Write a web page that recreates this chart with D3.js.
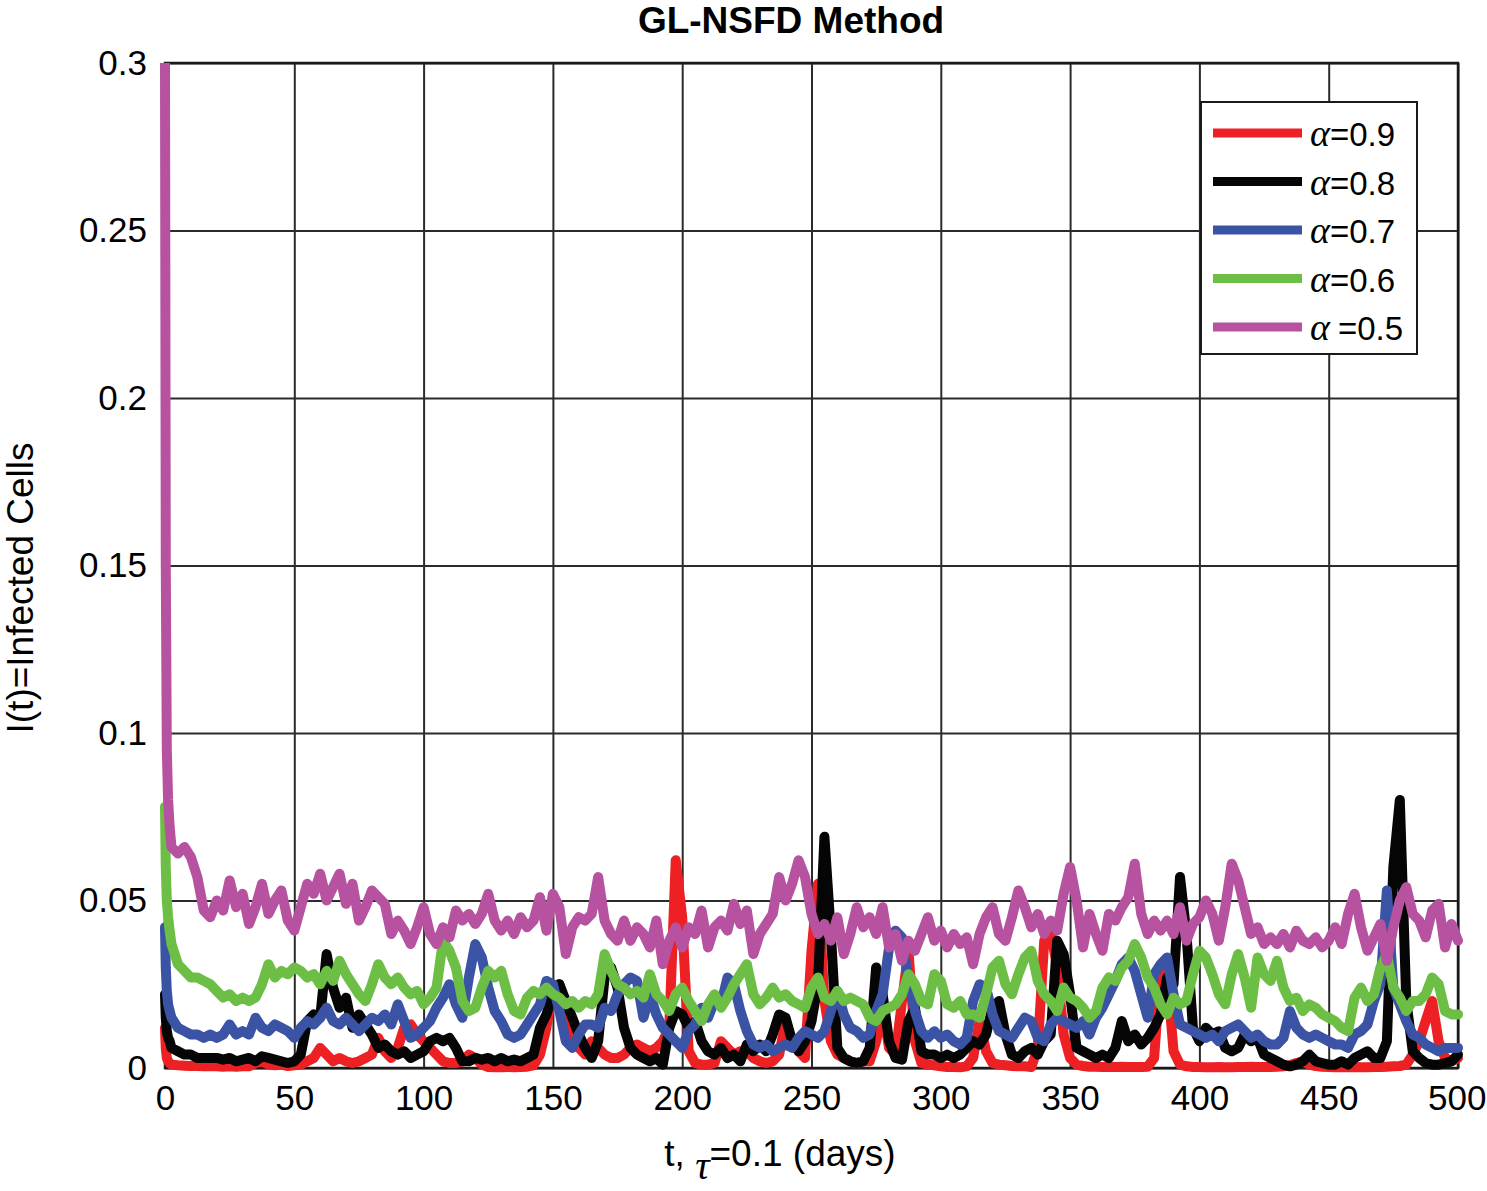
<!DOCTYPE html>
<html>
<head>
<meta charset="utf-8">
<script src="https://cdn.jsdelivr.net/npm/d3@7"></script>
<style>
  body { margin: 0; background: #fff; }
  text { font-family: "Liberation Sans", Arial, Helvetica, sans-serif; fill: #000; }
</style>
</head>
<body>
<svg id="chart" width="1487" height="1191"></svg>
<script>
// -------------------
// data

// first few samples near t=0 (fast initial decay), then a 2.5-day sampling grid up to 500
const tHead = [0, 0.3, 0.7, 1.2, 1.8]
const tGrid = d3.range(2.5, 500.01, 2.5)
const tValues = [...tHead, ...tGrid]

const seriesLabels = ["0.9", "0.8", "0.7", "0.6", " 0.5"]
const seriesColors = ["#ed2024", "#050505", "#3a53a4", "#6cbe45", "#b6529f"]

// alpha = 0.9
const red09 = [0.012, 0.006, 0.003, 0.002, 0.0015,
  0.001, 0.0008, 0.0007, 0.0006, 0.0006, 0.0005, 0.0005, 0.0005, 0.0004, 0.0005,
  0.0004, 0.0005, 0.0005, 0.0015, 0.002, 0.001, 0.0008, 0.001, 0.0006, 0.0008,
  0.001, 0.002, 0.003, 0.006, 0.004, 0.002, 0.003, 0.002, 0.0015, 0.002,
  0.003, 0.004, 0.009, 0.005, 0.003, 0.006, 0.012, 0.013, 0.010, 0.008,
  0.006, 0.004, 0.002, 0.0015, 0.0015, 0.002, 0.004, 0.003, 0.001, 0.0003,
  0.0002, 0.0002, 0.0003, 0.0002, 0.0003, 0.0004, 0.0008, 0.004, 0.012, 0.024,
  0.025, 0.018, 0.010, 0.006, 0.004, 0.008, 0.006, 0.004, 0.003, 0.003,
  0.004, 0.006, 0.007, 0.006, 0.005, 0.006, 0.008, 0.012, 0.062, 0.045,
  0.005, 0.0015, 0.001, 0.001, 0.0015, 0.008, 0.006, 0.004, 0.005, 0.005,
  0.003, 0.002, 0.0015, 0.002, 0.004, 0.014, 0.008, 0.005, 0.003, 0.035,
  0.055, 0.020, 0.008, 0.004, 0.003, 0.002, 0.0015, 0.002, 0.002, 0.008,
  0.018, 0.006, 0.004, 0.020, 0.035, 0.008, 0.0015, 0.001, 0.0008, 0.0005,
  0.0003, 0.0003, 0.0002, 0.0005, 0.003, 0.014, 0.005, 0.0015, 0.001, 0.0008,
  0.0006, 0.0005, 0.0005, 0.0003, 0.006, 0.038, 0.041, 0.030, 0.010, 0.003,
  0.001, 0.0006, 0.0004, 0.0004, 0.0003, 0.0004, 0.0003, 0.0004, 0.0003, 0.0003,
  0.0003, 0.0004, 0.003, 0.030, 0.028, 0.005, 0.001, 0.0005, 0.0003, 0.0003,
  0.0002, 0.0002, 0.0003, 0.0002, 0.0002, 0.0003, 0.0003, 0.0004, 0.0003, 0.0003,
  0.0003, 0.0004, 0.0005, 0.0008, 0.0015, 0.002, 0.001, 0.0006, 0.0004, 0.0003,
  0.0002, 0.0002, 0.0002, 0.0003, 0.0002, 0.0002, 0.0003, 0.0003, 0.0004, 0.0005,
  0.0006, 0.001, 0.004, 0.008, 0.014, 0.020, 0.008, 0.003, 0.002, 0.003]

// alpha = 0.8
const black08 = [0.022, 0.015, 0.011, 0.009, 0.008,
  0.006, 0.005, 0.004, 0.004, 0.003, 0.003, 0.003, 0.003, 0.0025, 0.003,
  0.002, 0.0025, 0.003, 0.002, 0.0035, 0.003, 0.0025, 0.002, 0.0015, 0.002,
  0.004, 0.014, 0.016, 0.015, 0.034, 0.024, 0.018, 0.021, 0.012, 0.016,
  0.013, 0.010, 0.006, 0.007, 0.005, 0.004, 0.005, 0.003, 0.004, 0.005,
  0.008, 0.009, 0.008, 0.009, 0.006, 0.002, 0.002, 0.003, 0.0025, 0.003,
  0.002, 0.003, 0.002, 0.0025, 0.002, 0.003, 0.004, 0.012, 0.016, 0.022,
  0.025, 0.020, 0.015, 0.010, 0.006, 0.003, 0.008, 0.027, 0.030, 0.024,
  0.012, 0.006, 0.004, 0.003, 0.002, 0.003, 0.001, 0.012, 0.017, 0.016,
  0.012, 0.014, 0.008, 0.005, 0.004, 0.006, 0.003, 0.004, 0.002, 0.007,
  0.005, 0.007, 0.005, 0.010, 0.016, 0.015, 0.008, 0.005, 0.008, 0.014,
  0.025, 0.069, 0.040, 0.006, 0.003, 0.002, 0.0015, 0.002, 0.006, 0.030,
  0.022, 0.008, 0.003, 0.0025, 0.014, 0.018, 0.005, 0.004, 0.004, 0.003,
  0.004, 0.003, 0.004, 0.006, 0.008, 0.007, 0.010, 0.018, 0.020, 0.010,
  0.004, 0.003, 0.005, 0.006, 0.004, 0.008, 0.010, 0.038, 0.034, 0.022,
  0.006, 0.005, 0.004, 0.003, 0.004, 0.003, 0.006, 0.014, 0.008, 0.010,
  0.007, 0.009, 0.012, 0.016, 0.027, 0.025, 0.057, 0.040, 0.012, 0.008,
  0.012, 0.010, 0.011, 0.006, 0.005, 0.006, 0.010, 0.008, 0.009, 0.004,
  0.003, 0.002, 0.001, 0.0005, 0.001, 0.002, 0.004, 0.002, 0.0015, 0.001,
  0.001, 0.002, 0.001, 0.003, 0.004, 0.005, 0.003, 0.003, 0.008, 0.060,
  0.080, 0.020, 0.005, 0.003, 0.0015, 0.001, 0.001, 0.0015, 0.002, 0.004]

// alpha = 0.7
const blue07 = [0.042, 0.030, 0.023, 0.019, 0.017,
  0.015, 0.012, 0.011, 0.010, 0.010, 0.009, 0.010, 0.009, 0.010, 0.013,
  0.010, 0.011, 0.010, 0.015, 0.012, 0.011, 0.013, 0.012, 0.011, 0.009,
  0.012, 0.014, 0.013, 0.015, 0.018, 0.014, 0.013, 0.015, 0.013, 0.011,
  0.013, 0.015, 0.014, 0.016, 0.013, 0.019, 0.014, 0.009, 0.010, 0.012,
  0.014, 0.018, 0.021, 0.025, 0.019, 0.015, 0.027, 0.037, 0.033, 0.024,
  0.017, 0.014, 0.010, 0.009, 0.010, 0.013, 0.016, 0.019, 0.026, 0.025,
  0.017, 0.008, 0.006, 0.010, 0.013, 0.013, 0.012, 0.018, 0.017, 0.022,
  0.025, 0.027, 0.026, 0.015, 0.022, 0.016, 0.012, 0.010, 0.008, 0.006,
  0.011, 0.013, 0.018, 0.015, 0.020, 0.019, 0.027, 0.025, 0.017, 0.011,
  0.007, 0.006, 0.007, 0.005, 0.006, 0.007, 0.006, 0.009, 0.011, 0.010,
  0.009, 0.011, 0.017, 0.023, 0.016, 0.012, 0.011, 0.009, 0.010, 0.017,
  0.022, 0.036, 0.041, 0.039, 0.026, 0.017, 0.011, 0.009, 0.011, 0.009,
  0.010, 0.008, 0.007, 0.009, 0.020, 0.025, 0.024, 0.016, 0.011, 0.010,
  0.009, 0.012, 0.015, 0.014, 0.009, 0.008, 0.013, 0.015, 0.014, 0.013,
  0.012, 0.014, 0.010, 0.015, 0.018, 0.022, 0.026, 0.031, 0.033, 0.029,
  0.022, 0.015, 0.028, 0.031, 0.033, 0.022, 0.013, 0.012, 0.011, 0.010,
  0.009, 0.010, 0.008, 0.011, 0.012, 0.013, 0.011, 0.009, 0.010, 0.008,
  0.007, 0.007, 0.009, 0.017, 0.012, 0.010, 0.009, 0.010, 0.009, 0.008,
  0.007, 0.007, 0.006, 0.010, 0.011, 0.013, 0.020, 0.025, 0.053, 0.024,
  0.019, 0.014, 0.010, 0.009, 0.007, 0.006, 0.005, 0.006, 0.006, 0.006]

// alpha = 0.6
const green06 = [0.078, 0.060, 0.050, 0.045, 0.041,
  0.037, 0.031, 0.029, 0.027, 0.027, 0.026, 0.025, 0.023, 0.021, 0.022,
  0.020, 0.021, 0.020, 0.021, 0.025, 0.031, 0.027, 0.029, 0.028, 0.030,
  0.029, 0.027, 0.028, 0.025, 0.029, 0.026, 0.032, 0.028, 0.025, 0.022,
  0.020, 0.025, 0.031, 0.027, 0.025, 0.027, 0.024, 0.022, 0.023, 0.019,
  0.021, 0.024, 0.038, 0.035, 0.030, 0.020, 0.017, 0.018, 0.024, 0.029,
  0.027, 0.029, 0.022, 0.017, 0.016, 0.021, 0.023, 0.022, 0.024, 0.022,
  0.021, 0.019, 0.020, 0.018, 0.020, 0.019, 0.022, 0.034, 0.029, 0.025,
  0.024, 0.022, 0.023, 0.021, 0.028, 0.022, 0.020, 0.017, 0.022, 0.024,
  0.020, 0.017, 0.014, 0.019, 0.022, 0.018, 0.021, 0.025, 0.028, 0.031,
  0.022, 0.019, 0.021, 0.024, 0.021, 0.022, 0.020, 0.019, 0.018, 0.024,
  0.027, 0.021, 0.020, 0.023, 0.020, 0.021, 0.020, 0.019, 0.015, 0.014,
  0.017, 0.018, 0.019, 0.022, 0.028, 0.025, 0.020, 0.019, 0.028, 0.026,
  0.019, 0.018, 0.020, 0.016, 0.016, 0.015, 0.022, 0.030, 0.032, 0.025,
  0.022, 0.028, 0.033, 0.035, 0.026, 0.022, 0.020, 0.017, 0.024, 0.021,
  0.020, 0.018, 0.015, 0.017, 0.024, 0.027, 0.026, 0.030, 0.032, 0.037,
  0.033, 0.027, 0.024, 0.019, 0.016, 0.021, 0.019, 0.020, 0.028, 0.035,
  0.033, 0.028, 0.022, 0.019, 0.028, 0.034, 0.027, 0.018, 0.033, 0.028,
  0.026, 0.032, 0.024, 0.020, 0.021, 0.017, 0.019, 0.018, 0.016, 0.015,
  0.014, 0.012, 0.011, 0.021, 0.024, 0.020, 0.022, 0.030, 0.034, 0.024,
  0.021, 0.017, 0.020, 0.020, 0.022, 0.027, 0.025, 0.017, 0.016, 0.016]

// alpha = 0.5
const magenta05 = [0.300, 0.150, 0.095, 0.080, 0.072,
  0.066, 0.064, 0.066, 0.063, 0.057, 0.047, 0.045, 0.050, 0.047, 0.056,
  0.048, 0.052, 0.043, 0.048, 0.055, 0.046, 0.050, 0.053, 0.044, 0.041,
  0.048, 0.055, 0.052, 0.058, 0.050, 0.054, 0.058, 0.049, 0.055, 0.044,
  0.048, 0.053, 0.051, 0.049, 0.040, 0.044, 0.041, 0.037, 0.042, 0.048,
  0.040, 0.037, 0.042, 0.039, 0.047, 0.044, 0.046, 0.043, 0.046, 0.052,
  0.044, 0.041, 0.044, 0.040, 0.045, 0.042, 0.044, 0.051, 0.041, 0.052,
  0.048, 0.034, 0.042, 0.045, 0.044, 0.046, 0.057, 0.044, 0.040, 0.038,
  0.044, 0.038, 0.042, 0.040, 0.036, 0.044, 0.031, 0.038, 0.042, 0.036,
  0.042, 0.040, 0.047, 0.036, 0.042, 0.044, 0.041, 0.049, 0.043, 0.047,
  0.034, 0.040, 0.043, 0.046, 0.057, 0.050, 0.055, 0.062, 0.057, 0.046,
  0.040, 0.043, 0.038, 0.045, 0.034, 0.040, 0.048, 0.042, 0.045, 0.040,
  0.048, 0.036, 0.040, 0.032, 0.038, 0.035, 0.040, 0.045, 0.038, 0.041,
  0.036, 0.040, 0.037, 0.039, 0.031, 0.040, 0.045, 0.048, 0.040, 0.038,
  0.045, 0.053, 0.048, 0.042, 0.046, 0.040, 0.044, 0.041, 0.052, 0.060,
  0.050, 0.036, 0.046, 0.040, 0.035, 0.046, 0.044, 0.048, 0.051, 0.061,
  0.046, 0.040, 0.044, 0.041, 0.044, 0.040, 0.048, 0.038, 0.043, 0.045,
  0.050, 0.046, 0.038, 0.048, 0.061, 0.056, 0.048, 0.040, 0.042, 0.037,
  0.039, 0.037, 0.040, 0.036, 0.041, 0.038, 0.037, 0.039, 0.036, 0.038,
  0.042, 0.037, 0.046, 0.052, 0.042, 0.035, 0.039, 0.043, 0.032, 0.042,
  0.050, 0.054, 0.046, 0.044, 0.039, 0.047, 0.049, 0.036, 0.043, 0.038]

const seriesValues = [red09, black08, blue07, green06, magenta05]

const xTicks = [0, 50, 100, 150, 200, 250, 300, 350, 400, 450, 500]
const yTicks = [0, 0.05, 0.1, 0.15, 0.2, 0.25, 0.3]
const yTickLabels = ["0", "0.05", "0.1", "0.15", "0.2", "0.25", "0.3"]

// -------------------
// layout

const svg = d3.select("#chart")
const plot = { left: 165, right: 1458, top: 63, bottom: 1068 }

const x = d3.scaleLinear().domain([0, 500]).range([plot.left, plot.right])
const y = d3.scaleLinear().domain([0, 0.3]).range([plot.bottom, plot.top])

// grid + tick labels

const xAxis = svg.append("g")
  .attr("transform", `translate(0,${plot.bottom})`)
  .call(d3.axisBottom(x).tickValues(xTicks).tickSize(-(plot.bottom - plot.top)).tickPadding(17).tickFormat(d3.format("d")))
const yAxis = svg.append("g")
  .attr("transform", `translate(${plot.left},0)`)
  .call(d3.axisLeft(y).tickValues(yTicks).tickSize(-(plot.right - plot.left)).tickPadding(18).tickFormat((d, i) => yTickLabels[i]))

for (const ax of [xAxis, yAxis]) {
  ax.select(".domain").remove()
  ax.selectAll(".tick line").attr("stroke", "#2b2b2b").attr("stroke-width", 2)
  ax.selectAll(".tick text").style("font-size", "35px").attr("fill", "#000")
}
// last x label sits right at the page edge: keep it inside
xAxis.selectAll(".tick text").filter(d => d === 500).attr("text-anchor", "end").attr("x", 28)

// axes box
svg.append("rect")
  .attr("x", plot.left).attr("y", plot.top)
  .attr("width", plot.right - plot.left).attr("height", plot.bottom - plot.top)
  .attr("fill", "none").attr("stroke", "#1a1a1a").attr("stroke-width", 2.5)

// lines

svg.append("defs").append("clipPath").attr("id", "plotClip")
  .append("rect")
  .attr("x", plot.left - 8).attr("y", plot.top)
  .attr("width", plot.right - plot.left + 16).attr("height", plot.bottom - plot.top + 8)

const line = d3.line()
  .x((d, i) => x(tValues[i]))
  .y(d => y(d))

svg.append("g")
  .attr("clip-path", "url(#plotClip)")
  .selectAll("path")
  .data(seriesValues)
  .join("path")
  .attr("d", line)
  .attr("fill", "none")
  .attr("stroke", (d, i) => seriesColors[i])
  .attr("stroke-width", 10)
  .attr("stroke-linejoin", "round")
  .attr("stroke-linecap", "round")

// title and labels

svg.append("text")
  .attr("x", 791).attr("y", 33)
  .attr("text-anchor", "middle")
  .style("font-size", "37px").style("font-weight", "bold")
  .text("GL-NSFD Method")

svg.append("text")
  .attr("transform", "translate(33,588) rotate(-90)")
  .attr("text-anchor", "middle")
  .style("font-size", "37px")
  .text("I(t)=Infected Cells")

const xLabel = svg.append("text")
  .attr("x", 780).attr("y", 1166)
  .attr("text-anchor", "middle")
  .style("font-size", "37px")
xLabel.append("tspan").text("t, ")
xLabel.append("tspan").attr("dy", 13).style("font-family", "'Liberation Serif', serif").style("font-style", "italic").style("font-size", "40px").text("τ")
xLabel.append("tspan").attr("dy", -13).text("=0.1 (days)")

// legend

const legend = svg.append("g")
legend.append("rect")
  .attr("x", 1201).attr("y", 102).attr("width", 216).attr("height", 252)
  .attr("fill", "#fff").attr("stroke", "#1a1a1a").attr("stroke-width", 2)

seriesLabels.forEach((lab, i) => {
  const ly = 133 + i * 48.5
  legend.append("line")
    .attr("x1", 1213).attr("x2", 1302).attr("y1", ly).attr("y2", ly)
    .attr("stroke", seriesColors[i]).attr("stroke-width", 9)
  const t = legend.append("text")
    .attr("x", 1310).attr("y", ly + 13)
    .style("font-size", "33px")
  t.append("tspan").style("font-family", "'Liberation Serif', serif").style("font-style", "italic").style("font-size", "38px").text("α")
  t.append("tspan").text("=" + lab.trim()).attr("dx", lab.startsWith(" ") ? 8 : 0)
})
</script>
</body>
</html>
